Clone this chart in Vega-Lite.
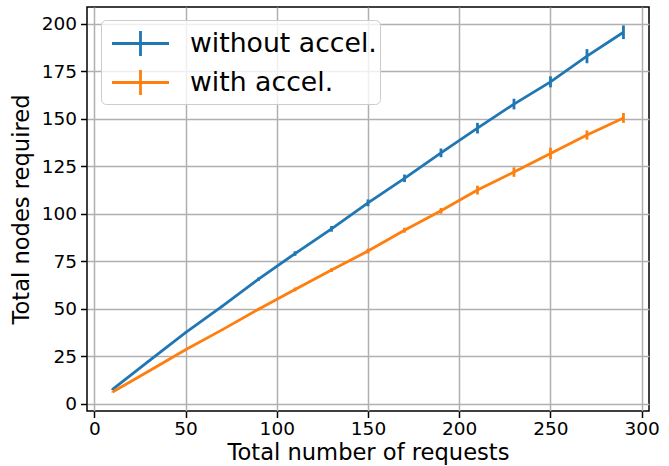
{
  "$schema": "https://vega.github.io/schema/vega-lite/v6.json",
  "width": 562,
  "height": 404,
  "autosize": {"type": "none"},
  "padding": {"left": 87, "top": 7, "right": 20, "bottom": 55},
  "background": "white",
  "data": {
    "values": [
      {"requests": 10, "nodes": 7.6, "err": 0.3, "series": "without accel."},
      {"requests": 30, "nodes": 22.6, "err": 0.3, "series": "without accel."},
      {"requests": 50, "nodes": 37.5, "err": 0.4, "series": "without accel."},
      {"requests": 70, "nodes": 51.3, "err": 0.5, "series": "without accel."},
      {"requests": 90, "nodes": 65.6, "err": 0.9, "series": "without accel."},
      {"requests": 110, "nodes": 79.1, "err": 1.2, "series": "without accel."},
      {"requests": 130, "nodes": 92.1, "err": 1.5, "series": "without accel."},
      {"requests": 150, "nodes": 105.8, "err": 1.8, "series": "without accel."},
      {"requests": 170, "nodes": 118.7, "err": 2.0, "series": "without accel."},
      {"requests": 190, "nodes": 132.1, "err": 2.3, "series": "without accel."},
      {"requests": 210, "nodes": 145.1, "err": 2.8, "series": "without accel."},
      {"requests": 230, "nodes": 157.8, "err": 2.8, "series": "without accel."},
      {"requests": 250, "nodes": 169.5, "err": 2.9, "series": "without accel."},
      {"requests": 270, "nodes": 183.0, "err": 3.7, "series": "without accel."},
      {"requests": 290, "nodes": 195.6, "err": 3.6, "series": "without accel."},
      {"requests": 10, "nodes": 6.2, "err": 0.2, "series": "with accel."},
      {"requests": 30, "nodes": 17.3, "err": 0.3, "series": "with accel."},
      {"requests": 50, "nodes": 28.4, "err": 0.4, "series": "with accel."},
      {"requests": 70, "nodes": 38.9, "err": 0.5, "series": "with accel."},
      {"requests": 90, "nodes": 49.8, "err": 0.7, "series": "with accel."},
      {"requests": 110, "nodes": 60.2, "err": 1.0, "series": "with accel."},
      {"requests": 130, "nodes": 70.4, "err": 1.0, "series": "with accel."},
      {"requests": 150, "nodes": 80.4, "err": 1.3, "series": "with accel."},
      {"requests": 170, "nodes": 91.4, "err": 1.3, "series": "with accel."},
      {"requests": 190, "nodes": 101.6, "err": 1.5, "series": "with accel."},
      {"requests": 210, "nodes": 112.5, "err": 2.3, "series": "with accel."},
      {"requests": 230, "nodes": 122.0, "err": 2.5, "series": "with accel."},
      {"requests": 250, "nodes": 131.8, "err": 3.0, "series": "with accel."},
      {"requests": 270, "nodes": 141.5, "err": 2.4, "series": "with accel."},
      {"requests": 290, "nodes": 150.5, "err": 2.6, "series": "with accel."}
    ]
  },
  "encoding": {
    "x": {
      "field": "requests",
      "type": "quantitative",
      "title": "Total number of requests",
      "scale": {"domain": [-4, 304], "nice": false, "zero": false},
      "axis": {"values": [0, 50, 100, 150, 200, 250, 300]}
    },
    "color": {
      "field": "series",
      "type": "nominal",
      "scale": {"domain": ["without accel.", "with accel."], "range": ["#1f77b4", "#ff7f0e"]},
      "legend": {
        "orient": "none",
        "legendX": 14,
        "legendY": 13,
        "title": null,
        "symbolType": "M-1.5,0H1.5M0,-0.66V0.66",
        "symbolSize": 1444,
        "symbolStrokeWidth": 2.8,
        "symbolOffset": 16,
        "labelFontSize": 26.7,
        "labelFont": "DejaVu Sans",
        "labelColor": "black",
        "labelLimit": 400,
        "fillColor": "rgba(255,255,255,0.8)",
        "strokeColor": "#cccccc",
        "cornerRadius": 5,
        "padding": 3,
        "rowPadding": 0,
        "labelOffset": 29
      }
    }
  },
  "layer": [
    {
      "mark": {"type": "line", "strokeWidth": 2.8, "clip": true},
      "encoding": {
        "y": {
          "field": "nodes",
          "type": "quantitative",
          "title": "Total nodes required",
          "scale": {"domain": [-3.8, 208.9], "nice": false, "zero": false},
          "axis": {"values": [0, 25, 50, 75, 100, 125, 150, 175, 200]}
        }
      }
    },
    {
      "mark": {"type": "errorbar", "thickness": 2.8, "clip": true},
      "encoding": {
        "y": {"field": "nodes", "type": "quantitative", "title": "Total nodes required"},
        "yError": {"field": "err"}
      }
    }
  ],
  "config": {
    "view": {"stroke": "black", "strokeWidth": 1.5},
    "axis": {
      "grid": true,
      "gridColor": "#b0b0b0",
      "gridWidth": 1.5,
      "domain": false,
      "ticks": true,
      "tickColor": "black",
      "tickSize": 6.5,
      "tickWidth": 1.5,
      "labelFont": "DejaVu Sans",
      "labelFontSize": 18.5,
      "labelColor": "black",
      "labelPadding": 4,
      "titleFont": "DejaVu Sans",
      "titleFontSize": 22.6,
      "titleFontWeight": "normal",
      "titleColor": "black"
    },
    "axisX": {"labelPadding": 2, "titlePadding": 3},
    "axisY": {"titlePadding": 8}
  }
}
